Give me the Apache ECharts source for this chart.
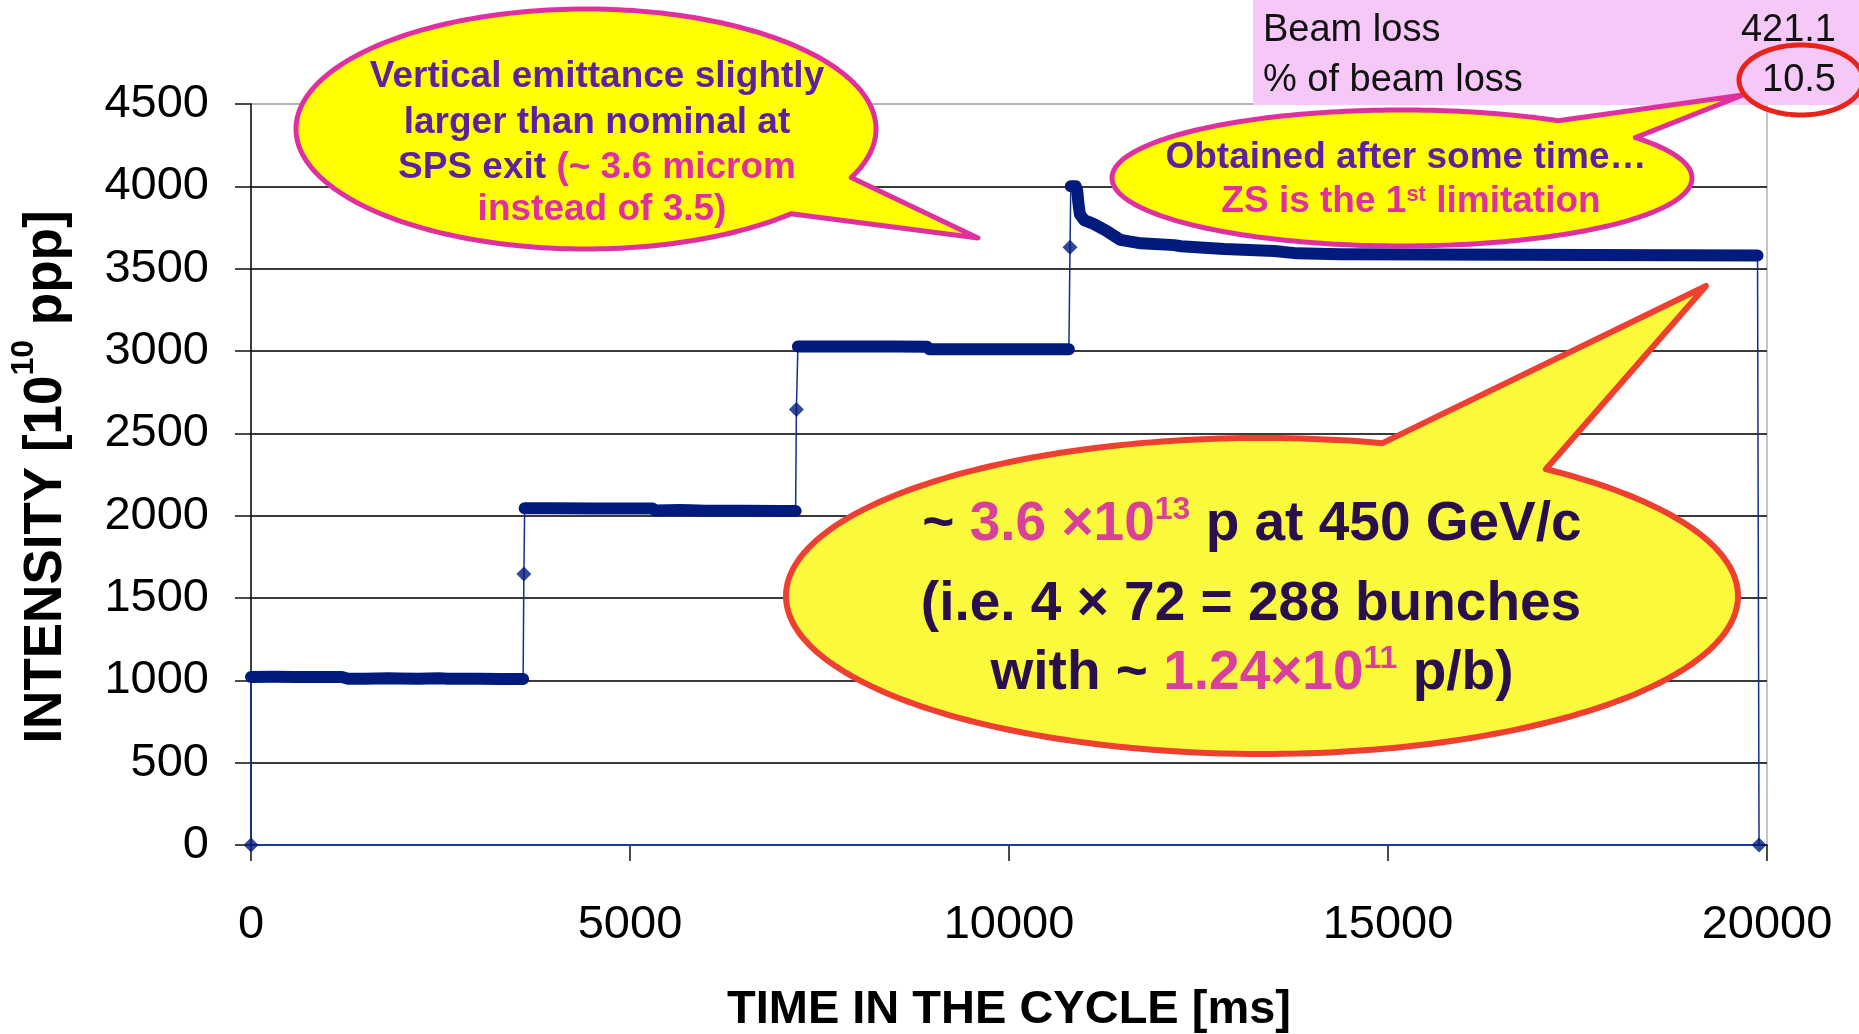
<!DOCTYPE html>
<html>
<head>
<meta charset="utf-8">
<script src="https://cdn.jsdelivr.net/npm/echarts@6/dist/echarts.min.js"></script>
<style>
html,body{margin:0;padding:0;background:#fff;}
#chart{width:1859px;height:1034px;}
</style>
</head>
<body>
<div id="chart"></div>
<script>
// ---------------- data ----------------
const xTicks = [0, 5000, 10000, 15000, 20000];
const yTicks = [0, 500, 1000, 1500, 2000, 2500, 3000, 3500, 4000, 4500];

// plateaus of the intensity trace: [time ms, intensity 1e10 ppp]
const plateau1 = [[0,1021],[300,1022],[600,1021],[900,1021],[1200,1020],[1280,1010],[1500,1010],[1800,1013],[1950,1011],[2200,1009],[2480,1012],[2600,1009],[3000,1009],[3300,1008],[3590,1008]];
const plateau2 = [[3610,2045],[4000,2045],[4500,2044],[5000,2044],[5300,2043],[5330,2031],[5650,2035],[5800,2033],[6000,2030],[6500,2030],[7000,2029],[7185,2029]];
const plateau3 = [[7215,3028],[7600,3028],[8000,3027],[8500,3027],[8920,3026],[8950,3010],[9500,3010],[10000,3010],[10500,3010],[10790,3010]];
const plateau4 = [[10815,4000],[10880,4000],[10900,3975],[10915,3900],[10935,3830],[10990,3795],[11120,3771],[11300,3725],[11470,3675],[11740,3654],[12180,3643],[12270,3636],[12840,3619],[13500,3607],[13800,3593],[14380,3588],[14400,3580],[19875,3580]];
// isolated points between plateaus
const stepPoints = [[0,0],[3600,1645],[7195,2645],[10805,3630],[19895,0]];
// zero line drawn in the series colour
const baseline = [[0,0],[19895,0]];

// table text
const tableRows = [['Beam loss','421.1'],['% of beam loss','10.5']];

// ---------------- styles ----------------
const F = "'Liberation Sans', Arial, sans-serif";
const NAVY = '#001a7e';
const NAVY_LINE = '#12308f';
const PURPLE = '#5f1f9f';
const MAGENTA = '#e0309f';
const DARK = '#2a0f4d';
const MAG3 = '#d8409c';

const trace = [stepPoints[0], ...plateau1, stepPoints[1], ...plateau2, stepPoints[2], ...plateau3, stepPoints[3], ...plateau4, stepPoints[4]];

function bubble(cx, cy, rx, ry, baseA, tip, baseB) {
  const ang = p => Math.atan2((p[1]-cy)/ry, (p[0]-cx)/rx);
  let a1 = ang(baseA), a2 = ang(baseB);
  if (a1 > a2) { const t = a1; a1 = a2; a2 = t; }
  const pts = [];
  const n = 240;
  for (let i = 0; i <= n; i++) {
    const a = a2 + (a1 + 2*Math.PI - a2) * i / n;
    pts.push([cx + rx*Math.cos(a), cy + ry*Math.sin(a)]);
  }
  pts.push(tip);
  return pts;
}
function ellipse(cx, cy, rx, ry) {
  const pts = [];
  for (let i = 0; i < 200; i++) {
    const a = 2*Math.PI*i/200;
    pts.push([cx + rx*Math.cos(a), cy + ry*Math.sin(a)]);
  }
  return pts;
}
function txt(x, y, text, size, color, align, extra) {
  return Object.assign({
    type: 'text', x: x, y: y, z: 130,
    style: { text: text, font: size, fill: color, align: align || 'center', verticalAlign: 'middle' }
  }, extra || {});
}
function rt(x, y, text, rich, z) {
  return { type: 'text', x: x, y: y, z: z || 130,
    style: { text: text, rich: rich, align: 'center', verticalAlign: 'middle' } };
}

const b37 = 'bold 37px ' + F;
const b55 = 'bold 55px ' + F;

const graphics = [
  // pink table
  { type: 'rect', z: 100, shape: { x: 1253, y: 0, width: 606, height: 105 }, style: { fill: '#f5c8f8' } },
  txt(1263, 31, tableRows[0][0], '38px ' + F, '#111', 'left'),
  txt(1836, 31, tableRows[0][1], '38px ' + F, '#111', 'right'),
  txt(1263, 81, tableRows[1][0], '38px ' + F, '#111', 'left'),
  txt(1836, 81, tableRows[1][1], '38px ' + F, '#111', 'right'),
  // callout 1
  { type: 'polygon', z: 110, shape: { points: bubble(586, 129, 290, 120, [848,177], [978,238], [789,213]) },
    style: { fill: '#ffff00', stroke: MAGENTA, lineWidth: 5, lineJoin: 'round' } },
  txt(597, 77, 'Vertical emittance slightly', b37, PURPLE),
  txt(597, 123, 'larger than nominal at', b37, PURPLE),
  rt(597, 168, '{p|SPS exit }{m|(~ 3.6 microm}', {
    p: { font: b37, fill: PURPLE }, m: { font: b37, fill: MAGENTA } }),
  txt(602, 210, 'instead of 3.5)', b37, MAGENTA),
  // callout 2
  { type: 'polygon', z: 110, shape: { points: bubble(1402, 178, 290, 68, [1568,117], [1743,95], [1639,137]) },
    style: { fill: '#ffff00', stroke: MAGENTA, lineWidth: 5, lineJoin: 'round' } },
  txt(1406, 157.5, 'Obtained after some time\u2026', b37, PURPLE),
  rt(1411, 202, '{m|ZS is the 1}{s|st}{m| limitation}', {
    m: { font: b37, fill: MAGENTA, lineHeight: 37 },
    s: { font: 'bold 22px ' + F, fill: MAGENTA, lineHeight: 22, verticalAlign: 'top' } }),
  // callout 3
  { type: 'polygon', z: 110, shape: { points: bubble(1262, 596, 476, 158, [1381,445], [1706,286], [1544,470]) },
    style: { fill: '#fbf93c', stroke: '#ee4030', lineWidth: 6, lineJoin: 'round' } },
  rt(1252, 525, '{d|~ }{m|3.6 \u00d710}{s|13}{d| p at 450 GeV/c}', {
    d: { font: b55, fill: DARK, lineHeight: 62 }, m: { font: b55, fill: MAG3, lineHeight: 62 },
    s: { font: 'bold 32px ' + F, fill: MAG3, lineHeight: 32, verticalAlign: 'top' } }),
  txt(1251, 605, '(i.e. 4 \u00d7 72 = 288 bunches', b55, DARK),
  rt(1252, 674, '{d|with ~ }{m|1.24\u00d710}{s|11}{d| p/b)}', {
    d: { font: b55, fill: DARK, lineHeight: 62 }, m: { font: b55, fill: MAG3, lineHeight: 62 },
    s: { font: 'bold 32px ' + F, fill: MAG3, lineHeight: 32, verticalAlign: 'top' } }),
  // red circle
  { type: 'polygon', z: 140, shape: { points: ellipse(1801, 80, 62, 35) },
    style: { fill: 'none', stroke: '#e8231a', lineWidth: 5 } },
  // axis titles
  { type: 'text', x: 46, y: 477, rotation: Math.PI/2, z: 130,
    style: { text: '{a|INTENSITY [10}{s|10}{a| ppp]}', align: 'center', verticalAlign: 'middle',
      rich: { a: { font: 'bold 53px ' + F, fill: '#000', lineHeight: 75 },
              s: { font: 'bold 32px ' + F, fill: '#000', lineHeight: 32, verticalAlign: 'top' } } } },
  txt(1009, 1010, 'TIME IN THE CYCLE [ms]', 'bold 47px ' + F, '#000')
];

const gridColors = yTicks.map((v, i) => i === yTicks.length - 1 ? '#b4b4b4' : '#3a3a3a');

const bandStyle = { color: NAVY, width: 12, cap: 'round', join: 'round' };
function band(data) {
  return { type: 'line', data: data, showSymbol: false, clip: false, silent: true, z: 5,
    lineStyle: bandStyle, itemStyle: { color: NAVY } };
}
const plain = v => String(v);

const option = {
  animation: false,
  backgroundColor: '#ffffff',
  grid: { left: 251, right: 92, top: 104, bottom: 189, show: true, borderColor: '#b4b4b4', borderWidth: 1.5 },
  xAxis: {
    type: 'value', min: xTicks[0], max: xTicks[xTicks.length-1], interval: xTicks[1] - xTicks[0],
    axisLine: { show: true, lineStyle: { color: '#111', width: 1.5 } },
    axisTick: { show: true, inside: false, length: 16, lineStyle: { color: '#111', width: 1.5 } },
    axisLabel: { margin: 57, fontSize: 47, fontFamily: F, color: '#000', formatter: plain },
    splitLine: { show: false }
  },
  yAxis: {
    type: 'value', min: yTicks[0], max: yTicks[yTicks.length-1], interval: yTicks[1] - yTicks[0],
    axisLine: { show: true, lineStyle: { color: '#111', width: 1.5 } },
    axisTick: { show: true, inside: false, length: 16, lineStyle: { color: '#111', width: 1.5 } },
    axisLabel: { margin: 42, fontSize: 47, fontFamily: F, color: '#000', formatter: plain },
    splitLine: { show: true, lineStyle: { color: gridColors, width: 2 } }
  },
  series: [
    { type: 'line', data: baseline, showSymbol: false, clip: false, silent: true, z: 3,
      lineStyle: { color: '#1c3aa0', width: 2 } },
    { type: 'line', data: trace, showSymbol: false, clip: false, silent: true, z: 4,
      lineStyle: { color: NAVY_LINE, width: 1.5 } },
    band(plateau1), band(plateau2), band(plateau3), band(plateau4),
    { type: 'scatter', data: stepPoints, symbol: 'diamond', symbolSize: 15, clip: false, silent: true, z: 6,
      itemStyle: { color: NAVY } }
  ],
  graphic: graphics
};

const chart = echarts.init(document.getElementById('chart'), null, { renderer: 'canvas' });
chart.setOption(option);
</script>
</body>
</html>
